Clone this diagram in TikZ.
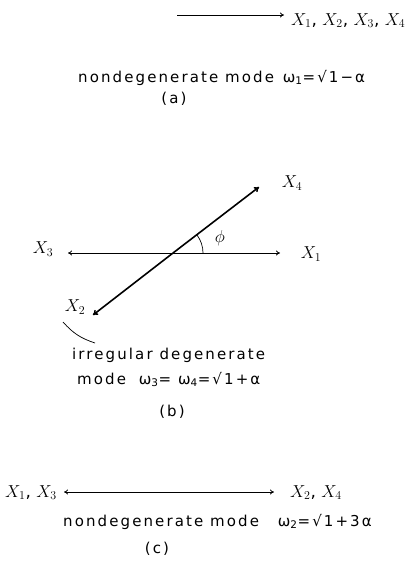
\documentclass[tikz,border=0pt]{standalone}
\usepackage{fontspec}
\setmainfont{DejaVu Sans}
\newfontfamily\typ[LetterSpace=14]{DejaVu Sans}
\usetikzlibrary{arrows.meta}
\begin{document}
\begin{tikzpicture}[x=1pt,y=-1pt,
  lbl/.style={font=\fontsize{15}{17}\selectfont\typ, inner sep=0pt},
  xl/.style={font=\fontsize{17}{20}\selectfont, inner sep=0pt},
  arr/.style={line width=0.8pt,-{To[length=4pt,width=5pt]}},
  darr/.style={line width=0.8pt,{To[length=4pt,width=5pt]}-{To[length=4pt,width=5pt]}},
  tarr/.style={line width=1.6pt,-{To[length=5pt,width=6pt]}},
  thin/.style={line width=0.7pt}]
\useasboundingbox (0,0) rectangle (414,573);
% (a)
\coordinate (a0) at (177,15);
\coordinate (a1) at (284,15);
\draw[arr] (a0) -- (a1);
\node[xl, anchor=base west] (xa) at (291,25) {$X_1$, $X_2$, $X_3$, $X_4$};
\node[lbl, anchor=base west] (ta) at (78,82) {nondegenerate mode\hspace{2pt} ω\textsubscript{1}=√1−α};
\node[lbl] (la) at (174,99) {(a)};
% (b)
\coordinate (O) at (173,253);
\coordinate (h1) at (280,253);
\coordinate (h3) at (68,253);
\coordinate (d4) at (259,187);
\coordinate (d2) at (93,315);
\draw[arr] (O) -- (h1);
\draw[arr] (O) -- (h3);
\draw[tarr] (O) -- (d4);
\draw[tarr] (O) -- (d2);
\coordinate (arcs) at (203,253);
\draw[thin] (arcs) arc[start angle=0,end angle=37.6,radius=30pt];
\node[xl] (phi) at (220,238) {$\phi$};
\node[xl] (x4) at (292,183) {$X_4$};
\node[xl] (x3) at (43,249) {$X_3$};
\node[xl] (x1) at (311,254) {$X_1$};
\node[xl] (x2) at (75,307) {$X_2$};
\coordinate (c0) at (63,322);
\coordinate (c1) at (95,343);
\draw[thin] (c0) to[bend right=15] (c1);
\node[lbl, anchor=base west] (tb1) at (72,359) {irregular degenerate};
\node[lbl, anchor=base west] (tb2) at (77,384) {mode\hspace{6pt} ω\textsubscript{3}= ω\textsubscript{4}=√1+α};
\node[lbl] (lb) at (172,412) {(b)};
% (c)
\node[xl, anchor=base west] (xc1) at (5,497) {$X_1$, $X_3$};
\coordinate (e0) at (64,492);
\coordinate (e1) at (274,492);
\draw[darr] (e0) -- (e1);
\node[xl, anchor=base west] (xc2) at (290,497) {$X_2$, $X_4$};
\node[lbl, anchor=base west] (tc) at (63,526) {nondegenerate mode\hspace{12pt} ω\textsubscript{2}=√1+3α};
\node[lbl] (lc) at (157,549) {(c)};
\end{tikzpicture}
\end{document}
